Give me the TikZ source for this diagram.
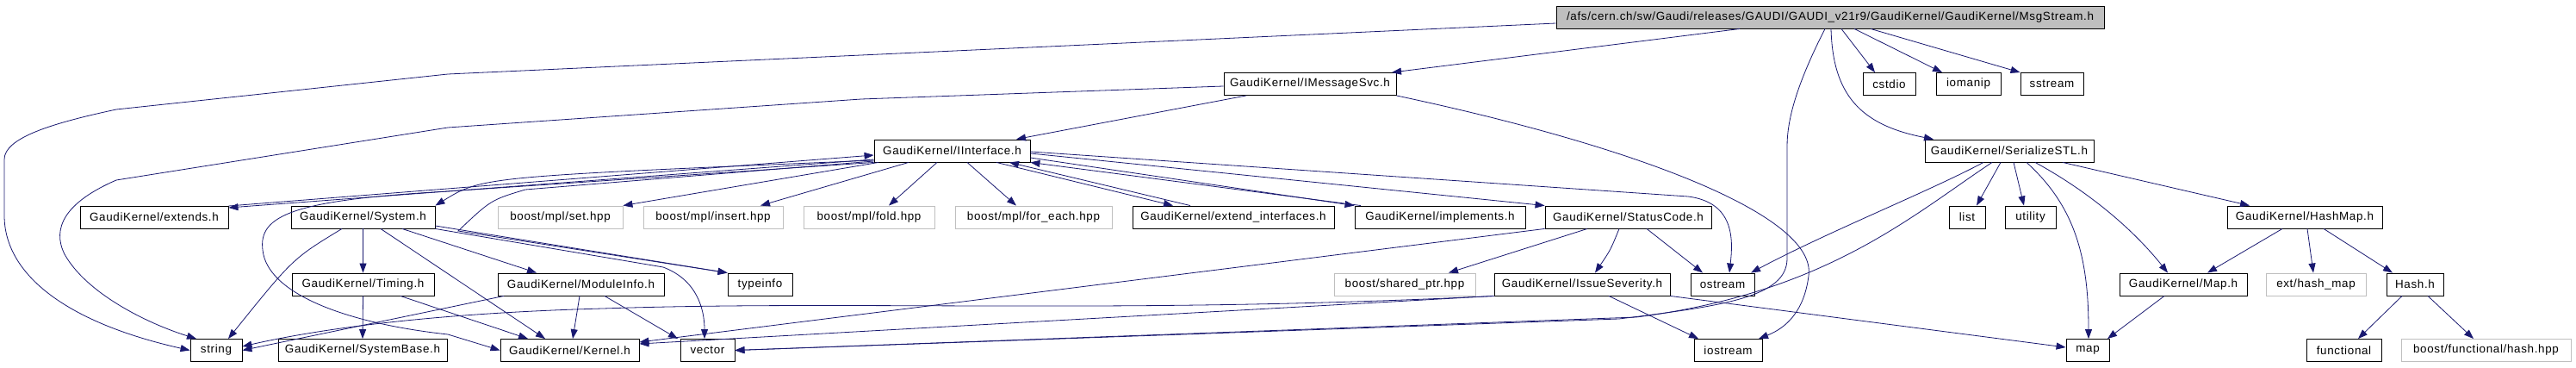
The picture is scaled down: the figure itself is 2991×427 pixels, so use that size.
\documentclass[tikz,border=0pt]{standalone}
\usepackage{fontspec}
\setmainfont[LetterSpace=5]{Liberation Sans}
\usetikzlibrary{arrows.meta, calc}
\definecolor{edgeblue}{HTML}{191970}
\definecolor{extgray}{HTML}{BFBFBF}
\begin{document}
\begin{tikzpicture}[x=1pt, y=-1pt,
		fnode/.style={draw=black, line width=0.9pt, minimum height=26pt, inner sep=0pt, font=\fontsize{13.4}{15}\selectfont},
		xnode/.style={fnode, draw=extgray},
		rnode/.style={fnode, fill=extgray},
		dep/.style={draw=edgeblue, line width=0.8pt, -{Triangle[length=11pt,width=8pt]}}]
	\useasboundingbox (0,0) rectangle (2991,427);
	% files, row by row
	\node[rnode, minimum width=636pt] (root) at (2125,20) {/afs/cern.ch/sw/Gaudi/releases/GAUDI/GAUDI\_v21r9/GaudiKernel/GaudiKernel/MsgStream.h};
	\node[fnode, minimum width=200pt] (imsg) at (1521,97.5) {GaudiKernel/IMessageSvc.h};
	\node[fnode, minimum width=61pt] (cstdio) at (2193.5,97.5) {cstdio};
	\node[fnode, minimum width=75pt] (iomanip) at (2285.5,97.5) {iomanip};
	\node[fnode, minimum width=73pt] (sstream) at (2382.5,97.5) {sstream};
	\node[fnode, minimum width=181pt] (iinterface) at (1105.5,175) {GaudiKernel/IInterface.h};
	\node[fnode, minimum width=196pt] (serial) at (2333,175) {GaudiKernel/SerializeSTL.h};
	\node[fnode, minimum width=172pt] (extends) at (179,252) {GaudiKernel/extends.h};
	\node[fnode, minimum width=167pt] (system) at (421.5,252) {GaudiKernel/System.h};
	\node[xnode, minimum width=145pt] (mplset) at (650.5,252) {boost/mpl/set.hpp};
	\node[xnode, minimum width=162pt] (mplinsert) at (828,252) {boost/mpl/insert.hpp};
	\node[xnode, minimum width=152pt] (mplfold) at (1009,252) {boost/mpl/fold.hpp};
	\node[xnode, minimum width=182pt] (mplforeach) at (1200,252) {boost/mpl/for\_each.hpp};
	\node[fnode, minimum width=234pt] (extif) at (1432,252) {GaudiKernel/extend\_interfaces.h};
	\node[fnode, minimum width=198pt] (implements) at (1672,252) {GaudiKernel/implements.h};
	\node[fnode, minimum width=193pt] (status) at (1890.5,252) {GaudiKernel/StatusCode.h};
	\node[fnode, minimum width=42pt] (list) at (2284,252) {list};
	\node[fnode, minimum width=59pt] (utility) at (2357.5,252) {utility};
	\node[fnode, minimum width=180pt] (hashmap) at (2676,252) {GaudiKernel/HashMap.h};
	\node[fnode, minimum width=165pt] (timing) at (421.5,330) {GaudiKernel/Timing.h};
	\node[fnode, minimum width=193pt] (moduleinfo) at (674.5,330) {GaudiKernel/ModuleInfo.h};
	\node[fnode, minimum width=75pt] (typeinfo) at (882.5,330) {typeinfo};
	\node[xnode, minimum width=164pt] (sharedptr) at (1631,330) {boost/shared\_ptr.hpp};
	\node[fnode, minimum width=204pt] (issue) at (1837,330) {GaudiKernel/IssueSeverity.h};
	\node[fnode, minimum width=74pt] (ostream) at (2000,330) {ostream};
	\node[fnode, minimum width=148pt] (gkmap) at (2535,330) {GaudiKernel/Map.h};
	\node[xnode, minimum width=116pt] (hashext) at (2689,330) {ext/hash\_map};
	\node[fnode, minimum width=66pt] (hash) at (2804,330) {Hash.h};
	\node[fnode, minimum width=60pt] (string) at (251,406.5) {string};
	\node[fnode, minimum width=196pt] (systembase) at (421,406.5) {GaudiKernel/SystemBase.h};
	\node[fnode, minimum width=161pt] (kernel) at (661.5,406.5) {GaudiKernel/Kernel.h};
	\node[fnode, minimum width=63pt] (vector) at (821.5,406.5) {vector};
	\node[fnode, minimum width=79pt] (iostream) at (2006.5,406.5) {iostream};
	\node[fnode, minimum width=50pt] (map) at (2424,406.5) {map};
	\node[fnode, minimum width=87pt] (functional) at (2721.5,406.5) {functional};
	\node[xnode, minimum width=197pt] (boosthash) at (2886.5,406.5) {boost/functional/hash.hpp};

	% MsgStream.h
	\draw[dep] (root.south -| 2020,0) -- (imsg.north -| 1616,0);
	\draw[dep] (root.west |- 0,27) -- (520,86) -- (135,127) .. controls (60,143) and (5,160) .. (5,185) -- (5,250) .. controls (5,320) and (80,375) .. (string.west);
	\draw[dep] (root.south -| 2138,0) -- (cstdio.north -| 2177,0);
	\draw[dep] (root.south -| 2153,0) -- (iomanip.north -| 2255,0);
	\draw[dep] (root.south -| 2172,0) -- (sstream.north west);
	\draw[dep] (root.south -| 2126,0) .. controls (2128,110) and (2160,145) .. (serial.north -| 2245,0);
	\draw[dep] (root.south -| 2119,0) .. controls (2085,100) and (2075,140) .. (2075,170) -- (2075,300) .. controls (2075,345) and (2000,355) .. (1880,370) -- (vector.east);
	% IMessageSvc.h
	\draw[dep] (imsg.south -| 1447,0) -- (iinterface.north -| 1180,0);
	\draw[dep] (imsg.west |- 0,100) -- (1000,115) -- (520,148) -- (135,209) .. controls (75,235) and (60,265) .. (75,295) .. controls (100,340) and (170,375) .. (string.north -| 228,0);
	\draw[dep] (imsg.south east) .. controls (1900,170) and (2110,250) .. (2100,320) .. controls (2095,360) and (2075,380) .. (iostream.north -| 2042,0);
	% IInterface.h and the files that include it back
	\draw[dep] (iinterface.west |- 0,185) -- (extends.east |- 0,241);
	\draw[dep] (extends.east |- 0,239) -- (iinterface.west |- 0,180);
	\draw[dep] (iinterface.west |- 0,186) .. controls (560,205) .. (system.north east);
	\draw[dep] (iinterface.south west) -- (520,222) .. controls (340,232) and (300,250) .. (305,290) .. controls (310,340) and (400,375) .. (520,388) -- (kernel.west);
	\draw[dep] (iinterface.west |- 0,187) -- (610,220) .. controls (570,232) .. (532,268) -- (typeinfo.north west);
	\draw[dep] (iinterface.south -| 1020,0) -- (mplset.north east);
	\draw[dep] (iinterface.south -| 1055,0) -- (mplinsert.north -| 883,0);
	\draw[dep] (iinterface.south -| 1088,0) -- (mplfold.north -| 1032,0);
	\draw[dep] (iinterface.south -| 1123,0) -- (mplforeach.north -| 1180,0);
	\draw[dep] (iinterface.south -| 1157,0) -- (extif.north -| 1362,0);
	\draw[dep] (extif.north -| 1382,0) -- (iinterface.south -| 1172,0);
	\draw[dep] (iinterface.east |- 0,183) -- (implements.north west);
	\draw[dep] (implements.north -| 1580,0) -- (iinterface.south east);
	\draw[dep] (iinterface.east |- 0,178) -- (status.north west);
	\draw[dep] (iinterface.east |- 0,176) -- (1960,228) .. controls (2015,235) and (2012,280) .. (ostream.north -| 2008,0);
	% System.h, Timing.h, ModuleInfo.h
	\draw[dep] (system.south -| 397,0) .. controls (340,300) .. (string.north -| 265,0);
	\draw[dep] (system.south) -- (timing.north);
	\draw[dep] (system.south -| 442,0) -- (kernel.north -| 633,0);
	\draw[dep] (system.south -| 467,0) -- (moduleinfo.north -| 623,0);
	\draw[dep] (system.south east) -- (770,310) .. controls (810,325) and (818,360) .. (vector.north -| 818,0);
	\draw[dep] (system.east |- 0,262) -- (typeinfo.north west);
	\draw[dep] (timing.south) -- (systembase.north);
	\draw[dep] (timing.south -| 465,0) -- (kernel.north -| 613,0);
	\draw[dep] (moduleinfo.south -| 585,0) -- (string.east);
	\draw[dep] (moduleinfo.south -| 673,0) -- (kernel.north -| 665,0);
	\draw[dep] (moduleinfo.south -| 702,0) -- (vector.north -| 787,0);
	% StatusCode.h, IssueSeverity.h
	\draw[dep] (status.south -| 1843,0) -- (sharedptr.north -| 1682,0);
	\draw[dep] (status.south -| 1880,0) .. controls (1870,290) .. (issue.north -| 1852,0);
	\draw[dep] (status.south -| 1912,0) -- (ostream.north -| 1977,0);
	\draw[dep] (status.south west) -- (kernel.east |- 0,397);
	\draw[dep] (issue.south -| 1868,0) -- (iostream.north -| 1972,0);
	\draw[dep] (issue.south east) -- (map.west |- 0,403);
	\draw[dep] (issue.south west) .. controls (1300,365) and (1000,348) .. (700,358) .. controls (550,362) and (400,375) .. (string.east |- 0,402);
	\draw[dep] (issue.south west) -- (kernel.east |- 0,399);
	% SerializeSTL.h and the maps
	\draw[dep] (serial.south -| 2303,0) .. controls (2240,222) and (2120,270) .. (ostream.north -| 2033,0);
	\draw[dep] (serial.south -| 2313,0) .. controls (2220,250) and (2120,340) .. (1900,368) -- (vector.east);
	\draw[dep] (serial.south -| 2323,0) -- (list.north -| 2295,0);
	\draw[dep] (serial.south -| 2338,0) -- (utility.north -| 2350,0);
	\draw[dep] (serial.south -| 2353,0) .. controls (2410,240) and (2425,300) .. (map.north -| 2425,0);
	\draw[dep] (serial.south -| 2363,0) .. controls (2430,225) and (2480,270) .. (gkmap.north -| 2517,0);
	\draw[dep] (serial.south -| 2395,0) -- (hashmap.north -| 2612,0);
	\draw[dep] (hashmap.south -| 2650,0) -- (gkmap.north -| 2563,0);
	\draw[dep] (hashmap.south -| 2679,0) -- (hashext.north -| 2686,0);
	\draw[dep] (hashmap.south -| 2698,0) -- (hash.north -| 2778,0);
	\draw[dep] (gkmap.south -| 2513,0) -- (map.north -| 2447,0);
	\draw[dep] (hash.south -| 2789,0) -- (functional.north -| 2738,0);
	\draw[dep] (hash.south -| 2819,0) -- (boosthash.north -| 2872,0);
\end{tikzpicture}
\end{document}
